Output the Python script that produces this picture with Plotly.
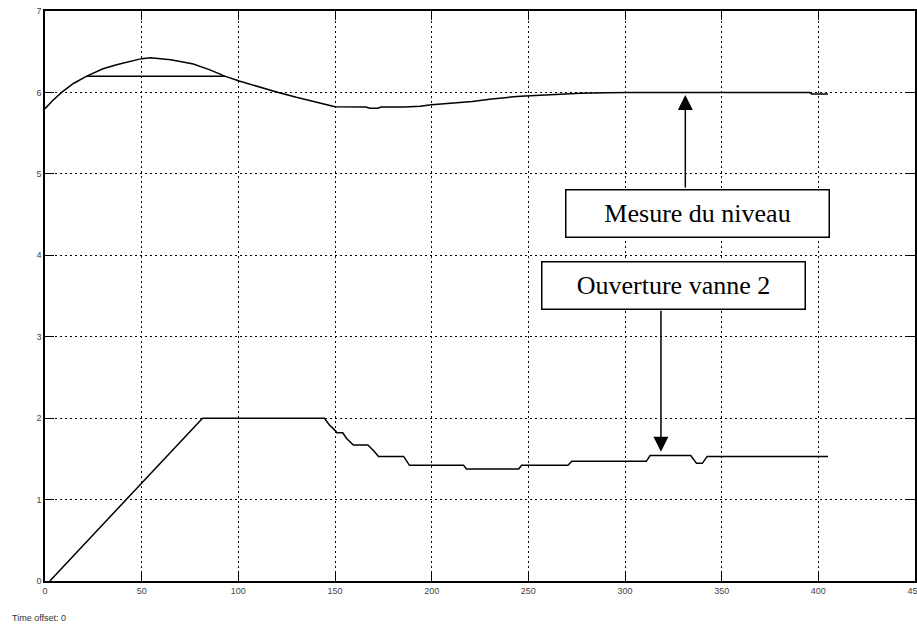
import plotly.graph_objects as go

# Mesure du niveau (level measurement)
level_t = [0, 4, 8.6, 14.7, 21.6, 30, 37, 45, 50, 54.5, 59, 65, 70, 76.7, 85, 93, 100.4,
           110, 120.7, 130, 140, 150, 166, 168, 172, 174, 186, 194, 200, 213, 221,
           231, 237, 244, 251, 262, 277, 290, 303, 330, 360, 395.5, 396.5, 405]
level_v = [5.80, 5.90, 6.00, 6.11, 6.20, 6.29, 6.34, 6.39, 6.415, 6.425, 6.415, 6.40, 6.38,
           6.35, 6.28, 6.20, 6.14, 6.07, 6.00, 5.94, 5.88, 5.825, 5.82, 5.805, 5.805, 5.82,
           5.82, 5.83, 5.85, 5.87, 5.89, 5.92, 5.935, 5.95, 5.96, 5.975, 5.99, 5.995,
           6.00, 6.00, 6.00, 6.00, 5.98, 5.98]

# Saturated set-point segment
sat_t = [21.6, 93.1]
sat_v = [6.20, 6.20]

# Ouverture vanne 2 (valve opening)
valve_t = [2.5, 81.5, 144.5, 147, 150, 151, 154, 156, 159.5, 167, 170, 172.5, 185.5,
           187, 188.5, 216.5, 218, 245, 246.5, 270.5, 272.5, 311, 313, 334, 337, 340,
           342.5, 405]
valve_v = [0.0, 2.0, 2.0, 1.92, 1.85, 1.82, 1.82, 1.75, 1.67, 1.67, 1.60, 1.53, 1.53,
           1.47, 1.42, 1.42, 1.375, 1.375, 1.42, 1.42, 1.47, 1.47, 1.54, 1.54, 1.445,
           1.445, 1.53, 1.53]

x_ticks = [0, 50, 100, 150, 200, 250, 300, 350, 400, 450]
y_ticks = [0, 1, 2, 3, 4, 5, 6, 7]

line_style = dict(color="black", width=1.5)

fig = go.Figure()
fig.add_trace(go.Scatter(x=level_t, y=level_v, mode="lines", line=line_style, hoverinfo="skip"))
fig.add_trace(go.Scatter(x=sat_t, y=sat_v, mode="lines", line=line_style, hoverinfo="skip"))
fig.add_trace(go.Scatter(x=valve_t, y=valve_v, mode="lines", line=line_style, hoverinfo="skip"))

axis_common = dict(
    showline=True, linecolor="black", linewidth=1.5, mirror="allticks",
    ticks="inside", ticklen=9, tickwidth=1.2, tickcolor="black",
    showgrid=True, gridcolor="black", gridwidth=1, griddash="2px,3px",
    zeroline=False, ticklabeloverflow="allow", automargin=False,
    tickfont=dict(family="Liberation Sans, Arial", size=9, color="#444444"),
)

fig.update_xaxes(range=[0, 450], tickvals=x_ticks, ticktext=[str(v) for v in x_ticks], **axis_common)
fig.update_yaxes(range=[0, 7], tickvals=y_ticks, ticktext=[str(v) for v in y_ticks], **axis_common)

serif = dict(family="Liberation Serif, Times New Roman, serif", size=26, color="black")

annotations = [
    # arrow to the level curve
    dict(x=331.2, y=5.968, ax=331.2, ay=4.814, axref="x", ayref="y", xref="x", yref="y",
         text="", showarrow=True, arrowhead=2, arrowsize=2, arrowwidth=1.5, arrowcolor="black"),
    # arrow to the valve curve
    dict(x=318.6, y=1.588, ax=318.6, ay=3.337, axref="x", ayref="y", xref="x", yref="y",
         text="", showarrow=True, arrowhead=2, arrowsize=2, arrowwidth=1.5, arrowcolor="black"),
    dict(x=337.24, y=4.519, xref="x", yref="y", text="Mesure du niveau", showarrow=False,
         font=serif, bgcolor="white", bordercolor="black", borderwidth=1.5, borderpad=0,
         width=262, height=46, align="center", valign="middle"),
    dict(x=325.2, y=3.633, xref="x", yref="y", text="Ouverture vanne 2", showarrow=False,
         font=serif, bgcolor="white", bordercolor="black", borderwidth=1.5, borderpad=0,
         width=262, height=46, align="center", valign="middle"),
    dict(x=-0.0402, y=-0.0649, xref="paper", yref="paper", text="Time offset: 0",
         showarrow=False, xanchor="left", yanchor="middle",
         font=dict(family="Liberation Sans, Arial", size=9, color="#333333")),
]

fig.update_layout(
    width=917, height=624,
    margin=dict(l=45, r=2, t=11, b=43, autoexpand=False),
    paper_bgcolor="white", plot_bgcolor="white",
    showlegend=False,
    annotations=annotations,
)

fig.write_html("out.html")
